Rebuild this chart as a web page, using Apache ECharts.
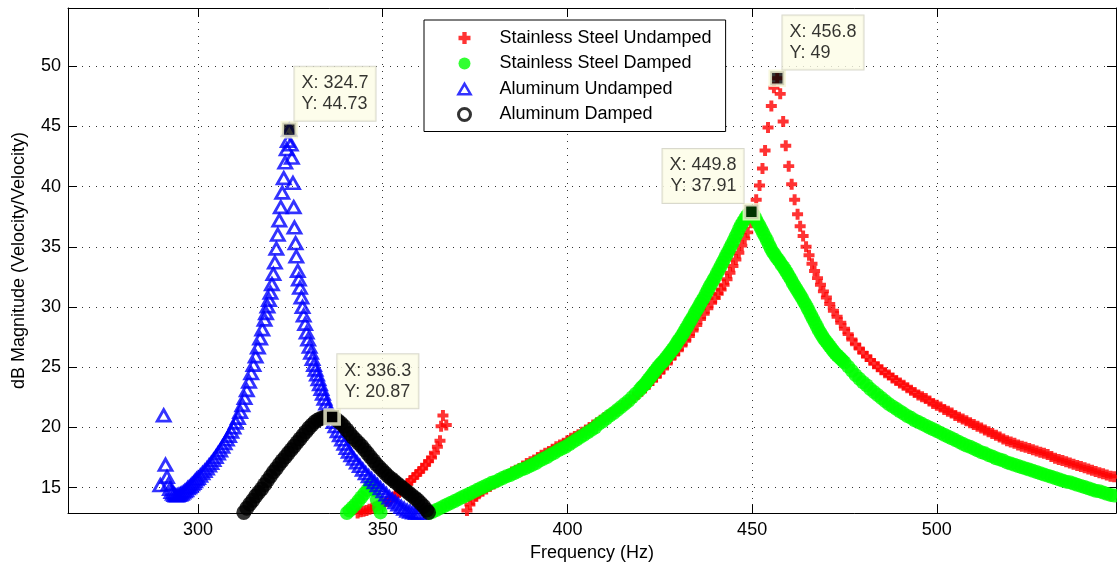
<!DOCTYPE html>
<html><head><meta charset="utf-8">
<script src="https://cdn.jsdelivr.net/npm/echarts@6/dist/echarts.min.js"></script>
<style>html,body{margin:0;padding:0;background:#fff;}#c{width:1117px;height:567px;}</style>
</head><body><div id="c"></div>
<script>
const xTicks = [300, 350, 400, 450, 500];
const yTicks = [15, 20, 25, 30, 35, 40, 45, 50];
const xRange = [264.8, 548.5];
const yRange = [12.89, 54.83];
const xTitle = 'Frequency (Hz)';
const yTitle = 'dB Magnitude (Velocity/Velocity)';
const seriesNames = ['Stainless Steel Undamped', 'Stainless Steel Damped', 'Aluminum Undamped', 'Aluminum Damped'];

const ssUndampedLow = [[343.2,12.9],[344.0,13.0],[344.8,13.05],[345.6,13.1],[346.4,13.2],[347.2,13.3],[348.0,13.4],[348.8,13.5],[349.6,13.6],[350.4,13.7],[351.2,13.85],[352.0,14.0],[352.8,14.2],[353.6,14.4],[354.4,14.6],[355.2,14.85],[356.0,15.1],[356.8,15.35],[357.6,15.6],[358.4,15.85],[359.2,16.1],[360.0,16.35],[360.8,16.6],[361.6,16.9],[362.4,17.2],[363.2,17.5],[364.0,17.9],[364.8,18.4],[365.5,18.9],[365.8,20.1],[366.3,21.0],[367.2,20.2]];
const ssUndampedMain = [[372.8,13.1],[373.6,13.6],[374.4,14.0],[375.2,14.3],[376,14.5],[377,14.7],[378,14.9],[379,15.1],[380,15.3],[381,15.5],[382,15.7],[383,15.9],[384,16.1],[385,16.3],[386,16.45],[387,16.6],[388,16.8],[389,17.0],[390,17.15],[391,17.3],[392,17.5],[393,17.7],[394,17.85],[395,18.0],[396,18.2],[397,18.4],[398,18.55],[399,18.7],[400,18.9],[401,19.1],[402,19.25],[403,19.4],[404,19.6],[405,19.8],[406,20.0],[407,20.2],[408,20.4],[409,20.6],[410,20.8],[411,21.0],[412,21.2],[413,21.4],[414,21.6],[415,21.8],[416,22.0],[417,22.25],[418,22.5],[419,22.75],[420,23.0],[421,23.3],[422,23.6],[423,23.9],[424,24.2],[425,24.55],[426,24.9],[427,25.3],[428,25.7],[429,26.05],[430,26.4],[431,26.8],[432,27.2],[433,27.6],[434,28.05],[435,28.5],[436,29.0],[437,29.45],[438,29.9],[439,30.35],[440.0,30.75],[440.8,31.1],[441.6,31.45],[442.4,31.85],[443.2,32.3],[444.0,32.85],[444.8,33.4],[445.6,33.95],[446.4,34.5],[447.2,35.1],[448.0,35.7],[448.8,36.2],[449.7,37.0],[450.4,37.9],[451.1,38.9],[452.0,40.1],[452.8,41.5],[453.5,43.0],[454.3,44.9],[455.2,46.7],[455.9,48.2],[456.8,49.0],[457.6,47.7],[458.4,45.4],[459.1,43.4],[459.9,41.7],[460.7,40.2],[461.5,38.9],[462.3,37.7],[463.0,36.7],[463.8,35.9],[464.6,35.0],[465.4,34.3],[466.2,33.6],[466.9,33.0],[467.7,32.4],[468.5,31.85],[469.3,31.3],[470.1,30.8],[471,30.25],[472,29.7],[473,29.2],[474,28.7],[475,28.2],[476,27.75],[477,27.3],[478,26.9],[479,26.55],[480,26.2],[481,25.9],[482,25.6],[483,25.3],[484,25.05],[485,24.8],[486,24.55],[487,24.35],[488,24.1],[489,23.9],[490,23.7],[491,23.5],[492,23.3],[493,23.1],[494,22.9],[495,22.7],[496,22.55],[497,22.4],[498,22.2],[499,22.0],[500,21.85],[501,21.7],[502,21.5],[503,21.35],[504,21.2],[505,21.0],[506,20.85],[507,20.7],[508,20.55],[509,20.4],[510,20.25],[511,20.1],[512,19.95],[513,19.8],[514,19.65],[515,19.5],[516,19.35],[517,19.2],[518,19.05],[519,18.9],[520,18.8],[521,18.7],[522,18.55],[523,18.45],[524,18.35],[525,18.25],[526,18.15],[527,18.05],[528,17.95],[529,17.85],[530,17.75],[531,17.6],[532,17.45],[533,17.35],[534,17.25],[535,17.15],[536,17.05],[537,16.95],[538,16.85],[539,16.75],[540,16.65],[541,16.55],[542,16.45],[543,16.35],[544,16.25],[545,16.15],[546,16.05],[547,15.95],[548,15.9]];

const ssDampedLow = [[340.3,12.9],[341.0,13.1],[341.8,13.35],[342.6,13.6],[343.4,13.9],[344.2,14.2],[345.0,14.5],[345.8,14.8],[346.6,15.2],[347.2,15.35],[347.8,14.8],[348.4,14.0],[349.0,13.35],[349.4,12.95]];
const ssDampedMain = [[362.6,12.9],[363.5,13.0],[364.5,13.15],[365.5,13.3],[366.5,13.45],[367.5,13.6],[368.5,13.75],[369.5,13.9],[370.5,14.05],[371.5,14.2],[372.5,14.35],[373.5,14.5],[374.5,14.65],[375.5,14.8],[376.5,14.95],[377.5,15.1],[378.5,15.25],[379.5,15.4],[380.5,15.5],[381.5,15.65],[382.5,15.8],[383.5,15.95],[384.5,16.05],[385.5,16.2],[386.5,16.35],[387.5,16.5],[388.5,16.6],[389.5,16.75],[390.5,16.9],[391.5,17.05],[392.5,17.25],[393.5,17.4],[394.5,17.55],[395.5,17.75],[396.5,17.9],[397.5,18.1],[398.5,18.25],[399.5,18.4],[400.5,18.6],[401.5,18.8],[402.5,19.0],[403.5,19.2],[404.5,19.4],[405.5,19.6],[406.5,19.8],[407.5,20.0],[408.5,20.3],[409.5,20.5],[410.5,20.75],[411.5,21.0],[412.5,21.2],[413.5,21.45],[414.5,21.7],[415.5,21.95],[416.5,22.2],[417.5,22.5],[418.5,22.8],[419.5,23.1],[420.0,23.3],[420.5,23.45],[421.0,23.6],[421.5,23.8],[422.0,24.0],[422.5,24.2],[423.0,24.4],[423.5,24.6],[424.0,24.8],[424.5,25.0],[425.0,25.2],[425.5,25.35],[426.0,25.5],[426.5,25.7],[427.0,25.9],[427.5,26.1],[428.0,26.3],[428.5,26.5],[429.0,26.7],[429.5,26.95],[430.0,27.2],[430.5,27.4],[431.0,27.65],[431.5,27.9],[432.0,28.15],[432.5,28.4],[433.0,28.7],[433.5,28.95],[434.0,29.2],[434.5,29.5],[435.0,29.75],[435.5,30.0],[436.0,30.3],[436.5,30.55],[437.0,30.8],[437.5,31.1],[438.0,31.4],[438.5,31.7],[439.0,31.95],[439.5,32.25],[440.0,32.5],[440.5,32.8],[441.0,33.1],[441.5,33.4],[442.0,33.7],[442.5,34.0],[443.0,34.3],[443.5,34.6],[444.0,34.9],[444.5,35.2],[445.0,35.5],[445.5,35.85],[446.0,36.15],[446.5,36.5],[447.0,36.8],[447.5,37.05],[448.0,37.3],[448.5,37.55],[449.0,37.7],[449.4,37.85],[449.8,37.91],[450.2,37.75],[450.6,37.55],[451.0,37.3],[451.5,37.0],[452.0,36.75],[452.5,36.45],[453.0,36.15],[453.5,35.85],[454.0,35.55],[454.5,35.2],[455.0,34.9],[455.5,34.6],[456.0,34.4],[456.5,34.15],[457.0,33.95],[457.5,33.75],[458.0,33.5],[458.5,33.3],[459.0,33.05],[459.5,32.8],[460.0,32.55],[460.5,32.3],[461.0,32.0],[461.5,31.75],[462.0,31.5],[462.5,31.25],[463.0,31.0],[463.5,30.75],[464.0,30.45],[464.5,30.2],[465.0,29.9],[465.5,29.6],[466.0,29.3],[466.5,29.0],[467.0,28.7],[467.5,28.4],[468.0,28.1],[468.5,27.85],[469.0,27.6],[469.5,27.35],[470.0,27.15],[470.5,26.95],[471.0,26.75],[471.5,26.55],[472.0,26.35],[472.5,26.15],[473.0,26.0],[473.5,25.85],[474.0,25.7],[474.5,25.55],[475,25.4],[476,25.05],[477,24.7],[478,24.35],[479,24.05],[480,23.75],[481,23.5],[482,23.2],[483,22.95],[484,22.7],[485,22.45],[486,22.2],[487,21.95],[488,21.75],[489,21.55],[490,21.35],[491,21.15],[492,20.95],[493,20.8],[494,20.6],[495,20.45],[496,20.3],[497,20.15],[498,20.0],[499,19.85],[500,19.7],[501,19.55],[502,19.4],[503,19.25],[504,19.1],[505,18.95],[506,18.8],[507,18.65],[508,18.5],[509,18.4],[510,18.25],[511,18.1],[512,17.95],[513,17.85],[514,17.7],[515,17.6],[516,17.45],[517,17.35],[518,17.25],[519,17.1],[520,17.0],[521,16.9],[522,16.8],[523,16.7],[524,16.6],[525,16.5],[526,16.4],[527,16.3],[528,16.2],[529,16.1],[530,16.0],[531,15.9],[532,15.8],[533,15.7],[534,15.6],[535,15.5],[536,15.45],[537,15.35],[538,15.25],[539,15.15],[540,15.05],[541,14.95],[542,14.85],[543,14.75],[544,14.7],[545,14.6],[546,14.5],[547,14.4],[548,14.35]];

const alUndamped = [[289.8,15.2],[290.7,21.0],[291.2,16.9],[291.6,15.9],[292.0,15.3],[292.4,14.9],[292.8,14.65],[293.2,14.5],[293.6,14.4],[294.0,14.35],[294.4,14.35],[294.8,14.4],[295.2,14.45],[295.6,14.5],[296.0,14.6],[296.4,14.7],[296.8,14.8],[297.2,14.95],[297.6,15.05],[298.0,15.15],[298.4,15.3],[298.8,15.4],[299.2,15.55],[299.6,15.7],[300.0,15.8],[300.6,16.0],[301.2,16.2],[301.8,16.4],[302.4,16.6],[303.0,16.85],[303.6,17.05],[304.2,17.3],[304.8,17.55],[305.4,17.85],[306.0,18.1],[306.6,18.4],[307.2,18.7],[307.8,19.0],[308.4,19.3],[309.0,19.65],[309.6,20.0],[310.2,20.4],[310.8,20.8],[311.4,21.3],[312.0,21.85],[312.6,22.45],[313.2,23.1],[313.8,23.8],[314.4,24.5],[315.0,25.2],[315.6,25.9],[316.2,26.65],[316.8,27.4],[317.4,28.15],[318.0,28.95],[318.4,29.5],[318.8,30.05],[319.2,30.6],[319.6,31.2],[320.0,31.9],[320.4,32.75],[320.8,33.7],[321.2,34.85],[321.6,36.0],[322.0,37.2],[322.4,38.3],[322.8,39.5],[323.2,40.7],[323.6,42.0],[324.0,43.1],[324.3,43.8],[324.7,44.73],[325.1,43.5],[325.4,42.4],[325.7,40.3],[325.9,38.3],[326.1,36.6],[326.4,35.3],[326.6,34.2],[327.0,33.0],[327.3,32.3],[327.6,31.6],[328.0,30.8],[328.3,30.0],[328.6,29.3],[329.0,28.6],[329.4,27.9],[329.8,27.3],[330.2,26.7],[330.6,26.2],[331.0,25.7],[331.4,25.2],[331.8,24.8],[332.2,24.4],[332.6,24.0],[333.0,23.6],[333.4,23.2],[333.8,22.8],[334.2,22.4],[334.7,22.0],[335.2,21.6],[335.7,21.2],[336.2,20.8],[336.7,20.45],[337.2,20.1],[337.8,19.7],[338.4,19.35],[339.0,19.0],[339.6,18.65],[340.2,18.3],[340.8,18.0],[341.5,17.7],[342.2,17.4],[343.0,17.1],[343.8,16.8],[344.6,16.5],[345.4,16.2],[346.2,15.95],[347.0,15.7],[347.8,15.45],[348.6,15.2],[349.4,14.95],[350.2,14.7],[351.0,14.45],[351.8,14.2],[352.6,14.0],[353.4,13.8],[354.2,13.6],[355.0,13.4],[355.8,13.25],[356.6,13.1],[357.4,13.0],[358.2,12.95],[359.0,12.9],[359.8,12.9]];

const alDamped = [[312.4,12.95],[313.2,13.3],[314.0,13.65],[314.8,13.95],[315.6,14.3],[316.4,14.6],[317.2,14.9],[318.0,15.25],[318.8,15.6],[319.6,15.95],[320.4,16.3],[321.2,16.6],[322.0,16.95],[322.8,17.25],[323.6,17.55],[324.4,17.85],[325.2,18.15],[326.0,18.45],[326.8,18.75],[327.6,19.05],[328.4,19.35],[329.2,19.65],[330.0,19.95],[330.8,20.2],[331.6,20.45],[332.4,20.62],[333.2,20.75],[334.0,20.83],[334.8,20.87],[335.6,20.88],[336.3,20.87],[337.1,20.75],[337.9,20.55],[338.7,20.35],[339.5,20.1],[340.3,19.8],[341.1,19.5],[341.9,19.2],[342.7,18.95],[343.5,18.7],[344.3,18.45],[345.1,18.15],[345.9,17.85],[346.7,17.55],[347.5,17.25],[348.3,16.95],[349.1,16.7],[349.9,16.45],[350.7,16.2],[351.5,15.95],[352.3,15.75],[353.1,15.55],[353.9,15.35],[354.7,15.15],[355.5,14.95],[356.3,14.75],[357.1,14.55],[357.9,14.35],[358.7,14.15],[359.5,13.95],[360.3,13.7],[361.1,13.45],[361.9,13.15],[362.4,12.95]];

const tipX = [324.7, 336.3, 449.8, 456.8];
const tipY = [44.73, 20.87, 37.91, 49];
const tipSides = ['right', 'right', 'left', 'right'];

const FONT = "'Liberation Sans', Arial, Helvetica, sans-serif";
const plusPath = 'path://M3.2,0H6.8V3.2H10V6.8H6.8V10H3.2V6.8H0V3.2H3.2Z';
const trianglePath = 'path://M6,0L12,10.4L0,10.4Z';

function tipLabel(side) {
  const base = {
    show: true,
    formatter: p => 'X: ' + p.value[0] + '\nY: ' + p.value[1],
    color: '#000', fontFamily: FONT, fontSize: 18, lineHeight: 21,
    backgroundColor: '#fcfce6', borderColor: '#cfcfc0', borderWidth: 1,
    padding: [6, 7, 6, 7], verticalAlign: 'bottom'
  };
  if (side === 'left') { base.position = [1, 0]; base.align = 'right'; }
  else { base.position = [14, 0]; base.align = 'left'; }
  return base;
}

function makeXAxis(pos, main) {
  return {
    type: 'value', min: xRange[0], max: xRange[1], position: pos,
    axisLine: {show: true, onZero: false, lineStyle: {color: '#000', width: 1}},
    axisTick: {show: true, inside: true, length: 9, customValues: xTicks, lineStyle: {color: '#000', width: 1}},
    axisLabel: {show: main, customValues: xTicks, margin: 8, color: '#000', fontSize: 18, fontFamily: FONT},
    splitLine: {show: main, lineStyle: {color: '#333', width: 1, type: [1, 6]}},
    name: main ? xTitle : '', nameLocation: 'middle', nameGap: 28,
    nameTextStyle: {color: '#000', fontSize: 18, fontFamily: FONT}
  };
}
function makeYAxis(pos, main) {
  return {
    type: 'value', min: yRange[0], max: yRange[1], position: pos,
    axisLine: {show: true, onZero: false, lineStyle: {color: '#000', width: 1}},
    axisTick: {show: true, inside: true, length: 9, customValues: yTicks, lineStyle: {color: '#000', width: 1}},
    axisLabel: {show: main, customValues: yTicks, margin: 7, color: '#000', fontSize: 18, fontFamily: FONT},
    splitLine: {show: main, lineStyle: {color: '#333', width: 1, type: [1, 6]}},
    name: main ? yTitle : '', nameLocation: 'middle', nameGap: 40,
    nameTextStyle: {color: '#000', fontSize: 18, fontFamily: FONT}
  };
}

const chart = echarts.init(document.getElementById('c'), null, {renderer: 'canvas'});
chart.setOption({
  animation: false,
  backgroundColor: '#fff',
  grid: {left: 68, right: 1, top: 8, bottom: 52.5},
  xAxis: [makeXAxis('bottom', true), makeXAxis('top', false)],
  yAxis: [makeYAxis('left', true), makeYAxis('right', false)],
  legend: {
    orient: 'vertical', left: 424, top: 20,
    padding: [8, 14, 7, 33], itemGap: 5.5, itemWidth: 12, itemHeight: 12,
    backgroundColor: '#fff', borderColor: '#000', borderWidth: 1, borderRadius: 0,
    textStyle: {color: '#000', fontSize: 18, lineHeight: 20, fontFamily: FONT, padding: [0, 0, 0, 24]},
    data: [
      seriesNames[0], seriesNames[1],
      {name: seriesNames[2], itemStyle: {color: 'rgba(0,0,0,0)', borderColor: '#0000ff', borderWidth: 2.6}},
      {name: seriesNames[3], icon: 'circle', itemStyle: {color: 'rgba(0,0,0,0)', borderColor: '#000', borderWidth: 3}}
    ]
  },
  series: [
    {name: seriesNames[0], type: 'scatter', clip: false, silent: true, symbol: plusPath, symbolSize: 11,
     itemStyle: {color: '#ff0000'}, data: ssUndampedLow.concat(ssUndampedMain)},
    {name: seriesNames[1], type: 'scatter', clip: false, silent: true, symbol: 'circle', symbolSize: 14,
     itemStyle: {color: '#00ff00'}, data: ssDampedLow.concat(ssDampedMain)},
    {name: seriesNames[2], type: 'scatter', clip: false, silent: true, symbol: trianglePath, symbolSize: [13, 11.5],
     itemStyle: {color: 'rgba(0,0,0,0)', borderColor: '#0000ff', borderWidth: 2.8}, data: alUndamped},
    {name: seriesNames[3], type: 'scatter', clip: false, silent: true, symbol: 'circle', symbolSize: 15,
     itemStyle: {color: '#000'}, data: alDamped},
    {name: 'datatips', type: 'scatter', clip: false, silent: true, symbol: 'rect', symbolSize: 14, z: 5,
     itemStyle: {color: '#000', borderColor: '#f6f6d6', borderWidth: 3.6},
     data: tipX.map((x, i) => ({value: [x, tipY[i]], label: tipLabel(tipSides[i])}))}
  ]
});
</script>
</body></html>
